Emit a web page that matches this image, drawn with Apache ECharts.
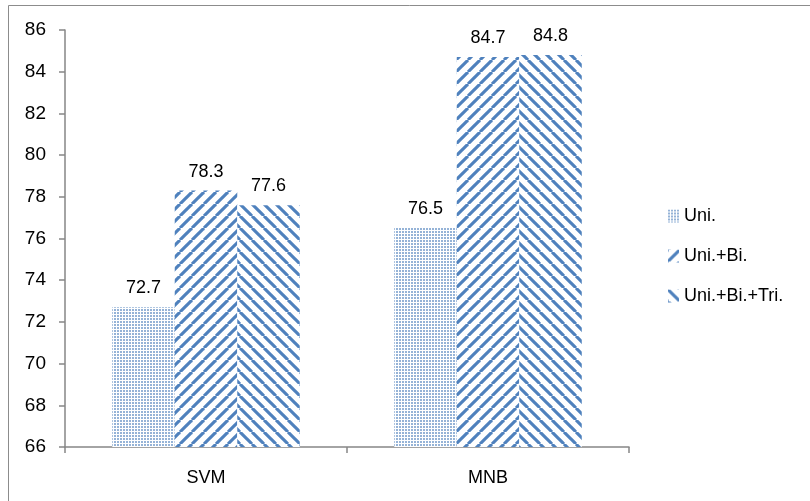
<!DOCTYPE html>
<html>
<head>
<meta charset="utf-8">
<script src="https://cdn.jsdelivr.net/npm/echarts@6/dist/echarts.min.js"></script>
<style>
  html, body { margin: 0; padding: 0; background: #fff; }
  #chart { width: 810px; height: 501px; }
</style>
</head>
<body>
<div id="chart"></div>
<script>
var categories = ['SVM', 'MNB'];
var seriesNames = ['Uni.', 'Uni.+Bi.', 'Uni.+Bi.+Tri.'];
var uniValues = [72.7, 76.5];
var uniBiValues = [78.3, 84.7];
var uniBiTriValues = [77.6, 84.8];
var yTicks = { min: 66, max: 86, interval: 2 };

var BLUE = '#4F81BD';
var FONT = 'Liberation Sans';

// dotted fill
function dotPattern() {
	var c = document.createElement('canvas');
	c.width = 3;
	c.height = 3;
	var ctx = c.getContext('2d');
	ctx.fillStyle = '#fff';
	ctx.fillRect(0, 0, 3, 3);
	ctx.fillStyle = 'rgba(79,129,189,0.6)';
	ctx.fillRect(0, 0, 2, 2);
	return c;
}

// diagonal stripes, dir 1 = "/", dir -1 = "\"
function stripePattern(dir) {
	var s = 12;
	var c = document.createElement('canvas');
	c.width = s;
	c.height = s;
	var ctx = c.getContext('2d');
	ctx.fillStyle = '#fff';
	ctx.fillRect(0, 0, s, s);
	ctx.strokeStyle = BLUE;
	ctx.lineWidth = 3.1;
	for (var k = -1; k <= 1; k++) {
		ctx.beginPath();
		if (dir > 0) {
			ctx.moveTo(k * s, s);
			ctx.lineTo(k * s + s, 0);
		} else {
			ctx.moveTo(k * s, 0);
			ctx.lineTo(k * s + s, s);
		}
		ctx.stroke();
	}
	return c;
}

var fills = [
	{ image: dotPattern(), repeat: 'repeat' },
	{ image: stripePattern(1), repeat: 'repeat' },
	{ image: stripePattern(-1), repeat: 'repeat' }
];
var values = [uniValues, uniBiValues, uniBiTriValues];

var series = [];
for (var i = 0; i < seriesNames.length; i++) {
	series.push({
		name: seriesNames[i],
		type: 'bar',
		barGap: '0%',
		barCategoryGap: '33.5%',
		itemStyle: { color: fills[i] },
		label: {
			show: true,
			position: 'top',
			distance: 10,
			fontFamily: FONT,
			fontSize: 18,
			color: '#000',
			formatter: function (p) { return p.value.toFixed(1); }
		},
		data: values[i]
	});
}

var chart = echarts.init(document.getElementById('chart'));
chart.setOption({
	animation: false,
	backgroundColor: '#fff',
	graphic: [{
		type: 'rect',
		silent: true,
		shape: { x: 8.5, y: 5.5, width: 900, height: 600 },
		style: { fill: 'none', stroke: '#8c8c8c', lineWidth: 1 }
	}],
	legend: {
		orient: 'vertical',
		left: 663,
		top: 202,
		itemWidth: 11,
		itemHeight: 13,
		itemGap: 22,
		icon: 'rect',
		textStyle: { fontFamily: FONT, fontSize: 18, color: '#000' },
		data: seriesNames
	},
	grid: { left: 65, right: 181, top: 30, bottom: 54 },
	xAxis: {
		type: 'category',
		data: categories,
		axisLine: { lineStyle: { color: '#868686', width: 1.5 } },
		axisTick: { show: true, length: 6, lineStyle: { color: '#868686', width: 1.5 } },
		axisLabel: { margin: 22, fontFamily: FONT, fontSize: 18, color: '#000' }
	},
	yAxis: {
		type: 'value',
		min: yTicks.min,
		max: yTicks.max,
		interval: yTicks.interval,
		axisLine: { show: true, lineStyle: { color: '#868686', width: 1.5 } },
		axisTick: { show: true, inside: false, length: 6, lineStyle: { color: '#868686', width: 1.5 } },
		splitLine: { show: false },
		axisLabel: { margin: 19, fontFamily: FONT, fontSize: 19, color: '#000' }
	},
	series: series
});
</script>
</body>
</html>
